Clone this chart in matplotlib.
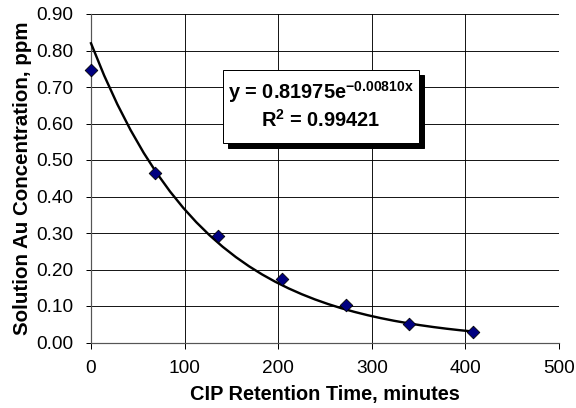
import matplotlib
matplotlib.use("Agg")
import matplotlib.pyplot as plt
import numpy as np
from matplotlib.patches import Rectangle

# ── data ─────────────────────────────────────────────────────────────────────
retention_min = [0, 68, 136, 204, 272, 340, 408]
au_ppm        = [0.746, 0.465, 0.292, 0.173, 0.103, 0.050, 0.030]

# exponential trendline as printed on the chart
FIT_A = 0.81975
FIT_B = -0.00810
FIT_R2 = 0.99421

x_ticks = [0, 100, 200, 300, 400, 500]
y_ticks = [0.0, 0.1, 0.2, 0.3, 0.4, 0.5, 0.6, 0.7, 0.8, 0.9]

plt.rcParams["font.family"] = ["Liberation Sans", "DejaVu Sans"]
plt.rcParams["mathtext.fontset"] = "custom"
plt.rcParams["mathtext.rm"] = "Liberation Sans"
plt.rcParams["mathtext.bf"] = "Liberation Sans:bold"

W, H = 576, 408
fig = plt.figure(figsize=(W / 72, H / 72), dpi=72)
# axes box in pixel coords: left 91, right 559, top 14, bottom 342.5
ax = fig.add_axes([91 / W, 1 - 342.5 / H, (559 - 91) / W, (342.5 - 14) / H])

xs = np.linspace(min(retention_min), max(retention_min), 30)
ax.plot(xs, FIT_A * np.exp(FIT_B * xs), color="black", lw=2.4, zorder=3,
        clip_on=False)
ax.scatter(retention_min, au_ppm, marker="D", s=80, color="#000080",
           edgecolors="black", linewidths=0.8, zorder=4, clip_on=False)

ax.set_xlim(0, 500)
ax.set_ylim(0, 0.9)
ax.set_xticks(x_ticks)
ax.set_yticks(y_ticks)
ax.set_yticklabels([f"{v:.2f}" for v in y_ticks])
ax.tick_params(labelsize=19, length=5.5, width=1, direction="out", colors="black")
ax.tick_params(axis="x", pad=12)
ax.tick_params(axis="y", pad=12)
ax.grid(True, color="black", lw=0.9)
ax.set_axisbelow(True)
for side in ["top", "right"]:
    ax.spines[side].set_visible(False)
for side in ["left", "bottom"]:
    ax.spines[side].set_color("#555555")
    ax.spines[side].set_linewidth(1.2)

ax.set_xlabel("CIP Retention Time, minutes", fontsize=20, fontweight="bold", labelpad=8)
ax.set_ylabel("Solution Au Concentration, ppm", fontsize=20.5, fontweight="bold", labelpad=4)

# equation box with drop shadow (figure pixel coords)
bx, by, bw, bh = 223, 70, 196, 73
shadow = Rectangle(((bx + 5) / W, 1 - (by + bh + 5) / H), bw / W, bh / H,
                   transform=fig.transFigure, facecolor="black", edgecolor="black", zorder=5)
box = Rectangle((bx / W, 1 - (by + bh) / H), bw / W, bh / H,
                transform=fig.transFigure, facecolor="white", edgecolor="black",
                lw=1, zorder=6)
fig.add_artist(shadow)
fig.add_artist(box)
fig.text((bx + bw / 2) / W, 1 - (by + 22) / H,
         f"y = {FIT_A:.5f}e" + r"$^{\mathbf{" + f"{FIT_B:.5f}" + r"x}}$",
         ha="center", va="center", fontsize=20, fontweight="bold", zorder=7)
fig.text((bx + bw / 2) / W, 1 - (by + 50) / H,
         r"R$^{\mathbf{2}}$ = " + f"{FIT_R2:.5f}", ha="center", va="center",
         fontsize=20, fontweight="bold", zorder=7)

fig.savefig("out.png", dpi=72)
